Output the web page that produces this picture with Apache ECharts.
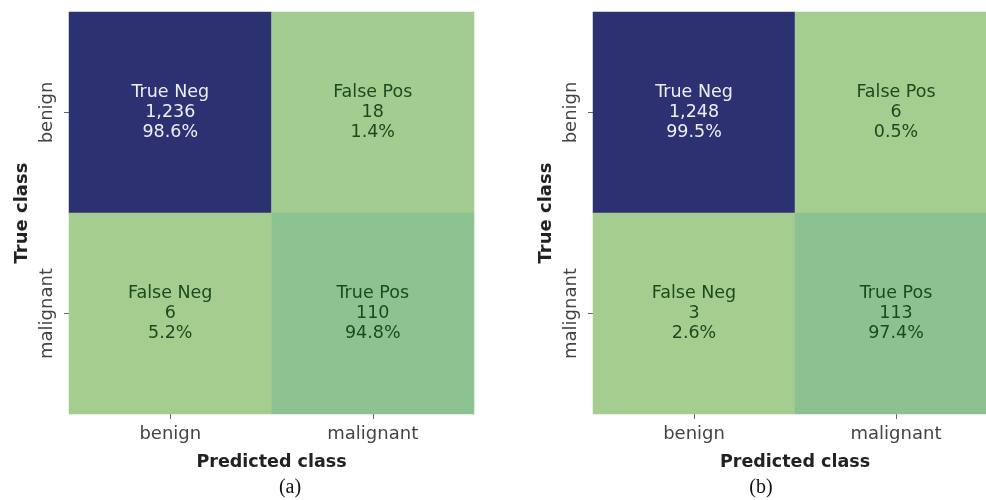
<!DOCTYPE html>
<html>
<head>
<meta charset="utf-8">
<script src="https://cdn.jsdelivr.net/npm/echarts@6/dist/echarts.min.js"></script>
<style>
  html, body { margin: 0; padding: 0; background: #ffffff; overflow: hidden; }
  #chart { width: 1000px; height: 500px; }
</style>
</head>
<body>
<div id="chart"></div>
<script>
// Class labels shared by both confusion matrices
const classes = ['benign', 'malignant'];
// Cell captions, row-major: [true benign, true malignant] x [pred benign, pred malignant]
const cellNames = [['True Neg', 'False Pos'], ['False Neg', 'True Pos']];
// Counts per model, row-major
const countsA = [[1236, 18], [6, 110]];
const countsB = [[1248, 6], [3, 113]];
const panelCaptions = ['(a)', '(b)'];

// "crest"-like ramp: light green for small counts, navy for large
const crest = ['#a5cd90', '#7dba91', '#59a590', '#40908e', '#287a8c', '#1c6488', '#254b7f', '#2c3172'];

const FONT = 'DejaVu Sans';

function fmt(n) { return n.toLocaleString('en-US'); }

function buildData(counts) {
  const flat = counts.flat();
  const min = Math.min(...flat), max = Math.max(...flat);
  const data = [];
  counts.forEach((row, r) => {
    const rowSum = row.reduce((a, b) => a + b, 0);
    row.forEach((v, c) => {
      const pct = (v / rowSum * 100).toFixed(1) + '%';
      const dark = (v - min) / (max - min) > 0.5;
      data.push({
        value: [c, r, v],
        label: {
          formatter: cellNames[r][c] + '\n' + fmt(v) + '\n' + pct,
          color: dark ? '#eeeefa' : '#1c4a1f'
        }
      });
    });
  });
  return { data, min, max };
}

const panels = [countsA, countsB].map(buildData);
const grids = [
  { left: 69, top: 12, width: 405, height: 402 },
  { left: 593, top: 12, width: 404, height: 402 }
];

const option = {
  backgroundColor: '#ffffff',
  animation: false,
  textStyle: { fontFamily: FONT },
  grid: grids,
  xAxis: grids.map((g, i) => ({
    type: 'category',
    gridIndex: i,
    data: classes,
    position: 'bottom',
    name: 'Predicted class',
    nameLocation: 'middle',
    nameGap: 39,
    nameTextStyle: { fontFamily: FONT, fontWeight: 'bold', fontSize: 17.5, color: '#222' },
    axisLine: { show: false },
    axisTick: { show: true, alignWithLabel: true, length: 5, lineStyle: { color: '#666' } },
    axisLabel: { fontFamily: FONT, fontSize: 18, color: '#444', margin: 11 },
    splitLine: { show: false }
  })),
  yAxis: grids.map((g, i) => ({
    type: 'category',
    gridIndex: i,
    data: classes,
    inverse: true,
    name: 'True class',
    nameLocation: 'middle',
    nameGap: 38,
    nameTextStyle: { fontFamily: FONT, fontWeight: 'bold', fontSize: 18, color: '#222' },
    axisLine: { show: false },
    axisTick: { show: true, alignWithLabel: true, length: 5, lineStyle: { color: '#666' } },
    axisLabel: { fontFamily: FONT, fontSize: 18, color: '#444', rotate: 90, margin: 13, align: 'center', verticalAlign: 'bottom' },
    splitLine: { show: false }
  })),
  visualMap: panels.map((p, i) => ({
    show: false,
    type: 'continuous',
    seriesIndex: i,
    dimension: 2,
    min: p.min,
    max: p.max,
    inRange: { color: crest }
  })),
  series: panels.map((p, i) => ({
    type: 'heatmap',
    xAxisIndex: i,
    yAxisIndex: i,
    data: p.data,
    label: { show: true, fontFamily: FONT, fontSize: 17.5, lineHeight: 20 },
    itemStyle: { borderWidth: 0 },
    emphasis: { disabled: true }
  })),
  graphic: [
    { type: 'text', x: 290, y: 488, style: { text: panelCaptions[0], font: '20px "Liberation Serif"', fill: '#111', textAlign: 'center', textVerticalAlign: 'middle' } },
    { type: 'text', x: 761, y: 488, style: { text: panelCaptions[1], font: '20px "Liberation Serif"', fill: '#111', textAlign: 'center', textVerticalAlign: 'middle' } }
  ]
};

const chart = echarts.init(document.getElementById('chart'), null, { renderer: 'canvas' });
chart.setOption(option);
</script>
</body>
</html>
